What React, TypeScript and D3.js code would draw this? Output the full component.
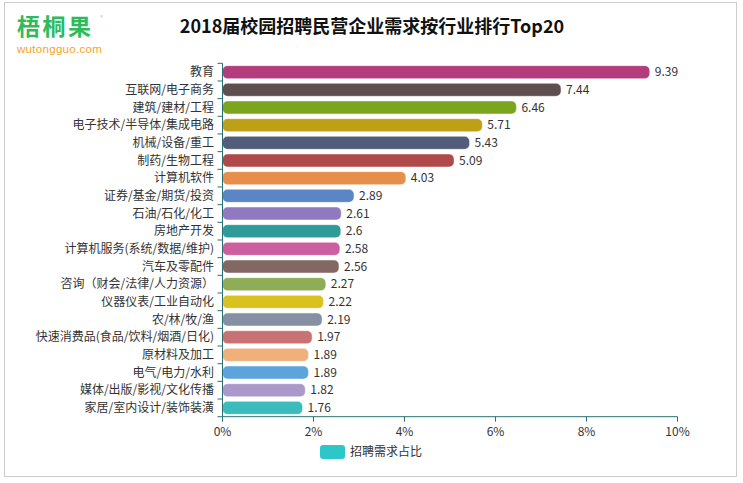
import React from "react";
import * as d3 from "d3";

const categories = [
  "教育",
  "互联网/电子商务",
  "建筑/建材/工程",
  "电子技术/半导体/集成电路",
  "机械/设备/重工",
  "制药/生物工程",
  "计算机软件",
  "证券/基金/期货/投资",
  "石油/石化/化工",
  "房地产开发",
  "计算机服务(系统/数据/维护)",
  "汽车及零配件",
  "咨询（财会/法律/人力资源）",
  "仪器仪表/工业自动化",
  "农/林/牧/渔",
  "快速消费品(食品/饮料/烟酒/日化)",
  "原材料及加工",
  "电气/电力/水利",
  "媒体/出版/影视/文化传播",
  "家居/室内设计/装饰装潢",
];
const values = [9.39, 7.44, 6.46, 5.71, 5.43, 5.09, 4.03, 2.89, 2.61, 2.6, 2.58, 2.56, 2.27, 2.22, 2.19, 1.97, 1.89, 1.89, 1.82, 1.76];
const valueLabels = ["9.39", "7.44", "6.46", "5.71", "5.43", "5.09", "4.03", "2.89", "2.61", "2.6", "2.58", "2.56", "2.27", "2.22", "2.19", "1.97", "1.89", "1.89", "1.82", "1.76"];
const barColors = [
  "#b33d7c", "#5e4e4f", "#7aa51c", "#bea016", "#535d7b", "#b04a4a", "#e88e4b", "#5b86c5", "#9179c2", "#2e9b98",
  "#cc5f9f", "#836762", "#8fac56", "#d9c21f", "#8590a3", "#c97274", "#f0b07c", "#5ba5dc", "#ab98cb", "#3bbcbc",
];
const xTicks = [0, 2, 4, 6, 8, 10];
const title = "2018届校园招聘民营企业需求按行业排行Top20";
const legendLabel = "招聘需求占比";
const legendColor = "#2ec7c9";

const W = 743;
const H = 483;
const FONT = "'Noto Sans CJK SC', 'Noto Sans', sans-serif";
const AXIS = "#2a6f73";

export default function App() {
  const x = d3.scaleLinear().domain([0, 10]).range([222.5, 677.5]);
  const y = d3.scaleBand<string>().domain(categories).range([63.3, 416.7]);
  const bw = 13;
  const bottom = 416.7;
  const boundaries = d3.range(categories.length + 1).map((i) => 63.3 + i * y.step());

  return (
    <svg width={W} height={H} style={{ position: "absolute", left: 0, top: 0, background: "#fff" }} fontFamily={FONT}>
      <rect x={0} y={0} width={W} height={H} fill="#fff" />
      <rect x={4.5} y={2.5} width={732} height={474} fill="none" stroke="#cccccc" strokeWidth={1} />

      {/* logo */}
      <text x={17} y={35} fill="#2dbb5c" fontSize={23} fontWeight="bold" letterSpacing={2.5}>梧桐果</text>
      <text x={100} y={20} fill="#9ad7a8" fontSize={6}>®</text>
      <text x={17} y={52.5} fill="#f5a41c" fontSize={11.5} fontFamily="'Liberation Sans', Arial, sans-serif" letterSpacing={0.3}>wutongguo.com</text>

      {/* title */}
      <text x={372} y={33} textAnchor="middle" fill="#111" fontSize={18} fontWeight="bold">{title}</text>

      {/* bars */}
      {categories.map((c, i) => {
        const yc = (y(c) as number) + y.bandwidth() / 2;
        return (
          <g key={c}>
            <rect
              x={x(0)}
              y={yc - bw / 2}
              width={x(values[i]) - x(0)}
              height={bw}
              rx={5}
              ry={5}
              fill={barColors[i]}
              stroke="#ffffff"
              strokeOpacity={0.6}
              strokeWidth={0.8}
            />
            <text x={x(values[i]) + 5} y={yc} dy="0.35em" fontSize={12} fill="#333">{valueLabels[i]}</text>
            <text x={214} y={yc} dy="0.35em" textAnchor="end" fontSize={12} fill="#333">{c}</text>
          </g>
        );
      })}

      {/* y axis */}
      <line x1={x(0)} x2={x(0)} y1={63.3} y2={bottom} stroke={AXIS} strokeWidth={1} />
      {boundaries.map((b, i) => (
        <line key={i} x1={x(0) - 5} x2={x(0)} y1={b} y2={b} stroke={AXIS} strokeWidth={1} />
      ))}

      {/* x axis */}
      <line x1={x(0)} x2={x(10)} y1={bottom} y2={bottom} stroke={AXIS} strokeWidth={1} />
      {xTicks.map((t) => (
        <g key={t}>
          <line x1={x(t)} x2={x(t)} y1={bottom} y2={bottom + 5} stroke={AXIS} strokeWidth={1} />
          <text x={x(t)} y={bottom + 15} dy="0.35em" textAnchor="middle" fontSize={12} fill="#333">{t}%</text>
        </g>
      ))}

      {/* legend */}
      <rect x={320} y={445} width={25} height={14} rx={3} ry={3} fill={legendColor} />
      <text x={350} y={452} dy="0.35em" fontSize={12} fill="#333">{legendLabel}</text>
    </svg>
  );
}
